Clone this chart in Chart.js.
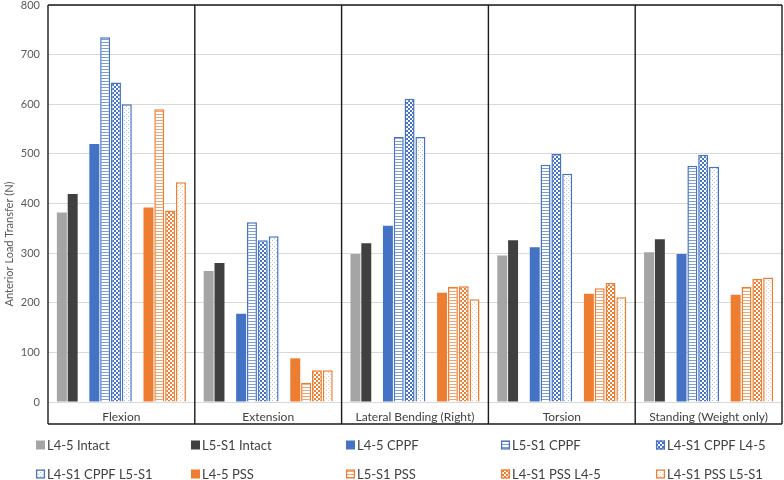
<!DOCTYPE html>
<html>
<head>
<meta charset="utf-8">
<script src="https://cdn.jsdelivr.net/npm/chart.js@4.4.1/dist/chart.umd.min.js"></script>
<style>
  html, body { margin: 0; padding: 0; background: #fff; }
  #wrap { width: 784px; height: 480px; }
</style>
</head>
<body>
<div id="wrap"><canvas id="myChart" width="784" height="480"></canvas></div>
<script>
var categories = ["Flexion", "Extension", "Lateral Bending (Right)", "Torsion", "Standing (Weight only)"];
var seriesNames = ["L4-5 Intact", "L5-S1 Intact", "L4-5 CPPF", "L5-S1 CPPF", "L4-S1 CPPF L4-5",
                   "L4-S1 CPPF L5-S1", "L4-5 PSS", "L5-S1 PSS", "L4-S1 PSS L4-5", "L4-S1 PSS L5-S1"];
var l45Intact   = [382, 264, 298, 295, 302];
var l5s1Intact  = [419, 280, 320, 326, 328];
var l45Cppf     = [520, 178, 355, 312, 298];
var l5s1Cppf    = [735, 362, 534, 478, 476];
var l4s1CppfL45 = [644, 326, 611, 500, 498];
var l4s1CppfL5s1= [600, 334, 534, 460, 474];
var l45Pss      = [392, 88, 220, 218, 216];
var l5s1Pss     = [590, 39, 232, 229, 232];
var l4s1PssL45  = [386, 64, 233, 240, 248];
var l4s1PssL5s1 = [443, 64, 207, 211, 251];
var yTicks = [0, 100, 200, 300, 400, 500, 600, 700, 800];
var yTitle = "Anterior Load Transfer (N)";

var GRAY = "#a5a5a5", DARK = "#404040", BLUE = "#4472c4", ORANGE = "#ed7d31";

function makePattern(kind, color) {
    var c = document.createElement("canvas");
    var ctx = c.getContext("2d");
    if (kind === "horiz") {
        c.width = 3; c.height = 3;
        ctx.fillStyle = "#fff"; ctx.fillRect(0, 0, 3, 3);
        ctx.globalAlpha = 0.7;
        ctx.fillStyle = color; ctx.fillRect(0, 0, 3, 1);
    } else if (kind === "check") {
        c.width = 4; c.height = 4;
        ctx.fillStyle = "#fff"; ctx.fillRect(0, 0, 4, 4);
        ctx.fillStyle = color;
        ctx.fillRect(0, 0, 2, 2); ctx.fillRect(2, 2, 2, 2);
    } else {
        c.width = 4; c.height = 4;
        ctx.fillStyle = "#fff"; ctx.fillRect(0, 0, 4, 4);
        ctx.globalAlpha = 0.45;
        ctx.fillStyle = color;
        ctx.fillRect(0, 0, 1, 1); ctx.fillRect(2, 2, 1, 1);
    }
    return document.getElementById("myChart").getContext("2d").createPattern(c, "repeat");
}

var styles = [
    { bg: GRAY, border: GRAY, bw: 0 },
    { bg: DARK, border: DARK, bw: 0 },
    { bg: BLUE, border: BLUE, bw: 0 },
    { bg: makePattern("horiz", BLUE), border: BLUE, bw: 1.5 },
    { bg: makePattern("check", BLUE), border: BLUE, bw: 1.5 },
    { bg: makePattern("dots", BLUE), border: BLUE, bw: 1.5 },
    { bg: ORANGE, border: ORANGE, bw: 0 },
    { bg: makePattern("horiz", ORANGE), border: ORANGE, bw: 1.5 },
    { bg: makePattern("check", ORANGE), border: ORANGE, bw: 1.5 },
    { bg: makePattern("dots", ORANGE), border: ORANGE, bw: 1.5 }
];
var values = [l45Intact, l5s1Intact, l45Cppf, l5s1Cppf, l4s1CppfL45, l4s1CppfL5s1,
              l45Pss, l5s1Pss, l4s1PssL45, l4s1PssL5s1];

var datasets = [];
function addSeries(i) {
    datasets.push({
        label: seriesNames[i],
        data: values[i],
        backgroundColor: styles[i].bg,
        borderColor: styles[i].border,
        borderWidth: styles[i].bw,
        borderSkipped: "bottom",
        barPercentage: 0.92,
        categoryPercentage: 0.885
    });
}
function addGap() {
    datasets.push({ label: "", data: [null, null, null, null, null],
                    barPercentage: 0.92, categoryPercentage: 0.885 });
}
addSeries(0); addSeries(1); addGap();
addSeries(2); addSeries(3); addSeries(4); addSeries(5); addGap();
addSeries(6); addSeries(7); addSeries(8); addSeries(9);

var frameBottom = 424;

var framePlugin = {
    id: "frame",
    afterDraw: function(chart) {
        var ctx = chart.ctx, a = chart.chartArea;
        var n = categories.length, w = (a.right - a.left) / n;
        ctx.save();
        ctx.strokeStyle = "#1a1a1a";
        ctx.lineWidth = 1.4;
        ctx.beginPath();
        ctx.moveTo(a.left, a.top); ctx.lineTo(a.right, a.top);
        ctx.moveTo(a.left, frameBottom); ctx.lineTo(a.right, frameBottom);
        for (var i = 0; i <= n; i++) {
            var x = a.left + i * w;
            ctx.moveTo(x, a.top); ctx.lineTo(x, frameBottom);
        }
        ctx.stroke();

        // y axis title, centred on the whole canvas height like the original
        ctx.save();
        ctx.translate(9, 244);
        ctx.rotate(-Math.PI / 2);
        ctx.font = "11px Lato";
        ctx.fillStyle = "#595959";
        ctx.textAlign = "center";
        ctx.textBaseline = "middle";
        ctx.fillText(yTitle, 0, 0);
        ctx.restore();

        // legend laid out in fixed columns
        ctx.font = "13px Lato";
        ctx.textBaseline = "middle";
        for (var k = 0; k < seriesNames.length; k++) {
            var col = k % 5, row = Math.floor(k / 5);
            var lx = 36 + col * 155, ly = 445 + row * 29;
            var st = styles[k];
            ctx.fillStyle = st.bg;
            ctx.fillRect(lx, ly - 4.5, 9, 9);
            if (st.bw) {
                ctx.strokeStyle = st.border; ctx.lineWidth = 1.3;
                ctx.strokeRect(lx + 0.6, ly - 3.9, 7.8, 7.8);
            }
            ctx.fillStyle = "#404040";
            ctx.fillText(seriesNames[k], lx + 11, ly + 0.5);
        }
        ctx.restore();
    }
};

new Chart("myChart", {
    type: "bar",
    data: { labels: categories, datasets: datasets },
    options: {
        responsive: false,
        animation: false,
        layout: { padding: { top: 5, right: 2, bottom: 57, left: 0 } },
        plugins: {
            legend: { display: false },
            tooltip: { enabled: false }
        },
        scales: {
            x: {
                grid: { display: false, drawTicks: false },
                border: { display: false },
                ticks: { color: "#404040", font: { family: "Lato", size: 12 }, padding: 8 },
                afterFit: function(scale) { scale.height = 21; }
            },
            y: {
                min: 0, max: 800,
                afterBuildTicks: function(scale) {
                    scale.ticks = yTicks.map(function(v) { return { value: v }; });
                },
                grid: { color: "#d9d9d9", lineWidth: 1, drawTicks: false },
                border: { display: false },
                ticks: { color: "#595959", font: { family: "Lato", size: 11 }, padding: 8 },
                afterFit: function(scale) {
                    scale.width = 48;
                    scale.paddingTop = 0;
                    scale.paddingBottom = 0;
                }
            }
        }
    },
    plugins: [framePlugin]
});
</script>
</body>
</html>
